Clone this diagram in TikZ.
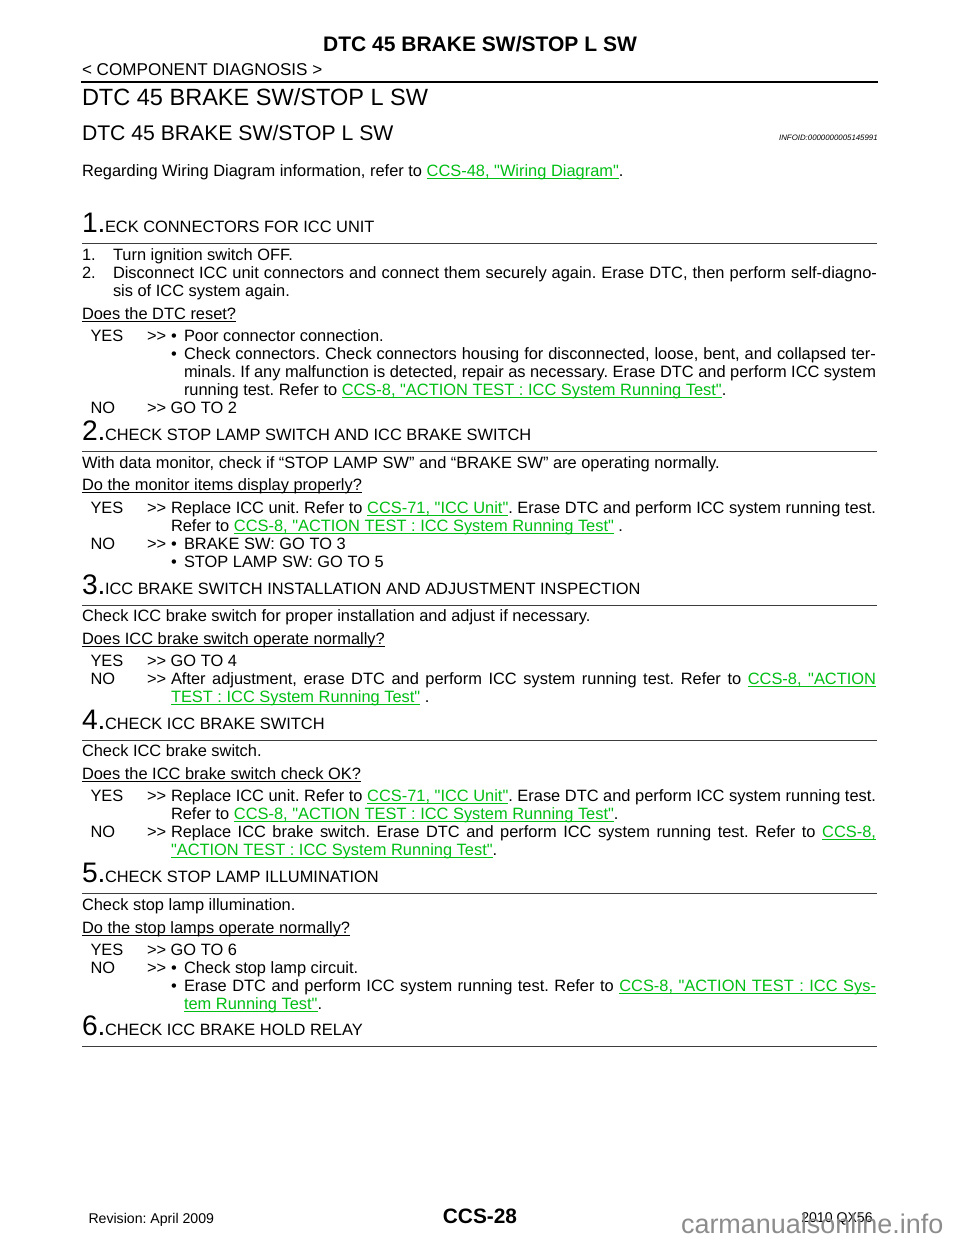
\documentclass[tikz,border=0pt]{standalone}
\usepackage{fontspec}
\setmainfont{Liberation Sans}[Ligatures=TeXOff]
\frenchspacing
\definecolor{linkgreen}{RGB}{0,190,20}
\definecolor{rulegray}{RGB}{60,60,60}
\definecolor{wmgray}{RGB}{140,140,140}
\makeatletter
\newcommand{\uline}[1]{\ulwalk#1 \ulend}
\def\ulwalk#1 #2\ulend{\setbox0\hbox{#1}\rlap{\vrule width\wd0 height -0.8pt depth 1.4pt}\box0
  \if\relax\detokenize{#2}\relax\else
  \leaders\hrule height -0.8pt depth 1.4pt\hskip\fontdimen2\font plus \fontdimen3\font minus \fontdimen4\font\relax
  \ulwalk#2\ulend\fi}
\makeatother
\newcommand{\lk}[1]{\textcolor{linkgreen}{\uline{#1}}}
\tikzset{
  x=0.6375pt,y=-0.6375pt,
  txt/.style={anchor=base west,inner sep=0pt,outer sep=0pt,font=\fontsize{10.46}{12}\selectfont},
  bignum/.style={anchor=base west,inner sep=0pt,outer sep=0pt,font=\fontsize{18}{20}\selectfont},
  steprule/.style={draw=rulegray,line width=1.1pt},
  toprule/.style={draw=black,line width=1.5pt}
}
\newcommand{\T}[3]{\node[txt] at (#1,#2+0.9) {#3};}
\newcommand{\J}[4]{\node[txt] at (#1,#2+0.9) {\hbox to #3\dimexpr0.6375pt\relax{#4}};}
\newcommand{\Hd}[3]{\node[bignum] at (82,#1+0.3) {#2.};\node[txt] at (105,#1+0.3) {#3};\draw[steprule] (82,#1+11.6) -- (877,#1+11.6);}
\newcommand{\Q}[2]{\node[txt] at (82,#1+0.4) {\uline{#2}};}
\begin{document}
\begin{tikzpicture}
\useasboundingbox[fill=white] (0,0) rectangle (960,1242);
\node[anchor=base,inner sep=0pt,font=\fontsize{13.4}{15}\selectfont\bfseries] at (480,51.5) {DTC 45 BRAKE SW/STOP L SW};
\node[txt,font=\fontsize{10.9}{12}\selectfont] at (82,76) {< COMPONENT DIAGNOSIS >};
\draw[toprule] (81,82) -- (878,82);
\node[txt,font=\fontsize{15}{17}\selectfont] at (82,105.3) {DTC 45 BRAKE SW/STOP L SW};
\node[txt,font=\fontsize{13.5}{16}\selectfont] at (82,141) {DTC 45 BRAKE SW/STOP L SW};
\node[anchor=base east,inner sep=0pt,font=\fontsize{5}{6}\selectfont\itshape] at (878,141) {INFOID:0000000005145991};
\T{82}{176}{Regarding Wiring Diagram information, refer to \lk{CCS-48, "Wiring Diagram"}.}

\Hd{232}{1}{ECK CONNECTORS FOR ICC UNIT}
\T{82}{260}{1.}\T{113}{260}{Turn ignition switch OFF.}
\T{82}{278}{2.}\J{113}{278}{764}{Disconnect ICC unit connectors and connect them securely again. Erase DTC, then perform self-diagno-}
\T{113}{296}{sis of ICC system again.}
\Q{319}{Does the DTC reset?}
\T{90.5}{341}{YES}\T{147}{341}{>>}\T{171}{341}{•}\T{184}{341}{Poor connector connection.}
\T{171}{359}{•}\J{184}{359}{692}{Check connectors. Check connectors housing for disconnected, loose, bent, and collapsed ter-}
\J{184}{377}{692}{minals. If any malfunction is detected, repair as necessary. Erase DTC and perform ICC system}
\T{184}{395}{running test. Refer to \lk{CCS-8, "ACTION TEST : ICC System Running Test"}.}
\T{90.5}{413}{NO}\T{147}{413}{>> GO TO 2}

\Hd{440}{2}{CHECK STOP LAMP SWITCH AND ICC BRAKE SWITCH}
\T{82}{468}{With data monitor, check if “STOP LAMP SW” and “BRAKE SW” are operating normally.}
\Q{490}{Do the monitor items display properly?}
\T{90.5}{513}{YES}\T{147}{513}{>>}\J{171}{513}{705}{Replace ICC unit. Refer to \lk{CCS-71, "ICC Unit"}. Erase DTC and perform ICC system running test.}
\T{171}{531}{Refer to \lk{CCS-8, "ACTION TEST : ICC System Running Test"} .}
\T{90.5}{549}{NO}\T{147}{549}{>>}\T{171}{549}{•}\T{184}{549}{BRAKE SW: GO TO 3}
\T{171}{567}{•}\T{184}{567}{STOP LAMP SW: GO TO 5}

\Hd{594}{3}{ICC BRAKE SWITCH INSTALLATION AND ADJUSTMENT INSPECTION}
\T{82}{621}{Check ICC brake switch for proper installation and adjust if necessary.}
\Q{644}{Does ICC brake switch operate normally?}
\T{90.5}{666}{YES}\T{147}{666}{>> GO TO 4}
\T{90.5}{684}{NO}\T{147}{684}{>>}\J{171}{684}{705}{After adjustment, erase DTC and perform ICC system running test. Refer to \lk{CCS-8, "ACTION}}
\T{171}{702}{\lk{TEST : ICC System Running Test"} .}

\Hd{729}{4}{CHECK ICC BRAKE SWITCH}
\T{82}{756}{Check ICC brake switch.}
\Q{779}{Does the ICC brake switch check OK?}
\T{90.5}{801}{YES}\T{147}{801}{>>}\J{171}{801}{705}{Replace ICC unit. Refer to \lk{CCS-71, "ICC Unit"}. Erase DTC and perform ICC system running test.}
\T{171}{819}{Refer to \lk{CCS-8, "ACTION TEST : ICC System Running Test"}.}
\T{90.5}{837}{NO}\T{147}{837}{>>}\J{171}{837}{705}{Replace ICC brake switch. Erase DTC and perform ICC system running test. Refer to \lk{CCS-8,}}
\T{171}{855}{\lk{"ACTION TEST : ICC System Running Test"}.}

\Hd{882}{5}{CHECK STOP LAMP ILLUMINATION}
\T{82}{910}{Check stop lamp illumination.}
\Q{933}{Do the stop lamps operate normally?}
\T{90.5}{955}{YES}\T{147}{955}{>> GO TO 6}
\T{90.5}{973}{NO}\T{147}{973}{>>}\T{171}{973}{•}\T{184}{973}{Check stop lamp circuit.}
\T{171}{991}{•}\J{184}{991}{692}{Erase DTC and perform ICC system running test. Refer to \lk{CCS-8, "ACTION TEST : ICC Sys-}}
\T{184}{1009}{\lk{tem Running Test"}.}

\Hd{1035}{6}{CHECK ICC BRAKE HOLD RELAY}

\node[txt,font=\fontsize{9}{10}\selectfont] at (88.5,1223) {Revision: April 2009};
\node[anchor=base,inner sep=0pt,font=\fontsize{13.3}{16}\selectfont\bfseries] at (480,1223) {CCS-28};
\node[anchor=base east,inner sep=0pt,font=\fontsize{9}{10}\selectfont] at (873,1222) {2010 QX56};
\node[txt,font=\fontsize{17.2}{18}\selectfont,text=wmgray] at (681,1233) {carmanualsonline.info};
\end{tikzpicture}
\end{document}
